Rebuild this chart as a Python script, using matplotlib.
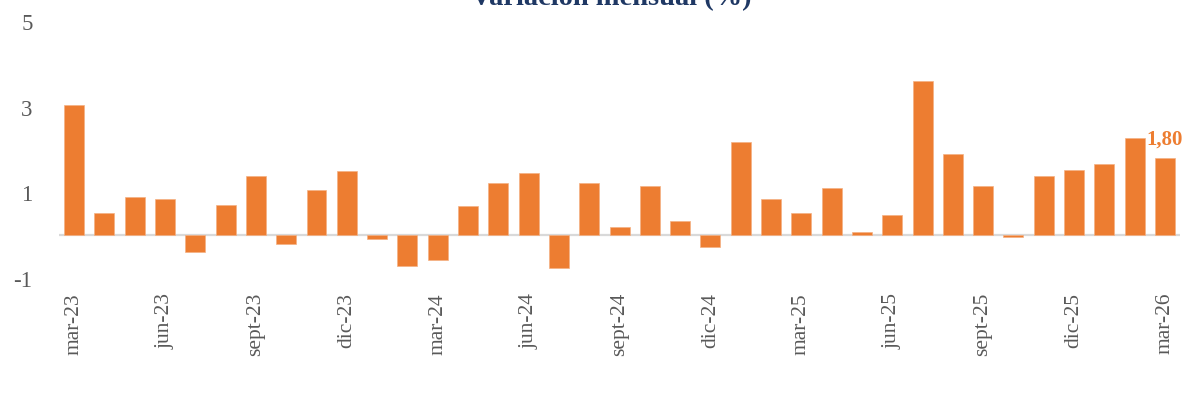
import matplotlib.pyplot as plt
import numpy as np

# monthly change, mar-23 .. mar-26
months = ["mar-23", "abr-23", "may-23", "jun-23", "jul-23", "ago-23",
          "sept-23", "oct-23", "nov-23", "dic-23", "ene-24", "feb-24",
          "mar-24", "abr-24", "may-24", "jun-24", "jul-24", "ago-24",
          "sept-24", "oct-24", "nov-24", "dic-24", "ene-25", "feb-25",
          "mar-25", "abr-25", "may-25", "jun-25", "jul-25", "ago-25",
          "sept-25", "oct-25", "nov-25", "dic-25", "ene-26", "feb-26",
          "mar-26"]
variacion = [3.04, 0.51, 0.89, 0.84, -0.39, 0.70,
             1.39, -0.20, 1.05, 1.50, -0.10, -0.72,
             -0.58, 0.68, 1.21, 1.44, -0.77, 1.21,
             0.19, 1.14, 0.34, -0.28, 2.17, 0.84,
             0.51, 1.11, 0.08, 0.48, 3.60, 1.89,
             1.15, -0.05, 1.39, 1.52, 1.65, 2.27,
             1.80]
yticks = [-1, 1, 3, 5]

ORANGE = "#ED7D31"
GREY = "#595959"
NAVY = "#1F3864"

plt.rcParams["font.family"] = ["Liberation Serif", "DejaVu Serif"]

fig = plt.figure(figsize=(11.86, 4.14), dpi=100)
ax = fig.add_axes([0.0497, 0.326, 0.9453, 0.621])

x = np.arange(len(months))
ax.bar(x, variacion, width=0.66, color=ORANGE, edgecolor="#F4B183",
       linewidth=0.5, zorder=2)
ax.axhline(0, color="#D9D9D9", linewidth=1.6, zorder=1)

# value label on the last month
ax.text(x[-1], variacion[-1] + 0.45, f"{variacion[-1]:.2f}".replace(".", ","),
        ha="center", va="center", color=ORANGE, fontsize=15,
        fontweight="bold")

ax.set_xlim(-0.5, len(months) - 0.5)
ax.set_ylim(-1, 5)
ax.set_yticks(yticks)
ax.set_yticklabels([str(v) for v in yticks])
ax.set_xticks(x[::3])
ax.set_xticklabels(months[::3], rotation=90, va="top", ha="center")
ax.tick_params(axis="y", length=0, pad=19, labelsize=16.5, labelcolor=GREY)
ax.tick_params(axis="x", length=0, pad=10, labelsize=15.5, labelcolor=GREY)
for side in ax.spines.values():
    side.set_visible(False)

fig.text(0.515, 1 - 5 / 414, "Variación mensual (%)", ha="center",
         va="baseline", color=NAVY, fontsize=20.5, fontweight="bold")

fig.savefig("out.png", dpi=100)
